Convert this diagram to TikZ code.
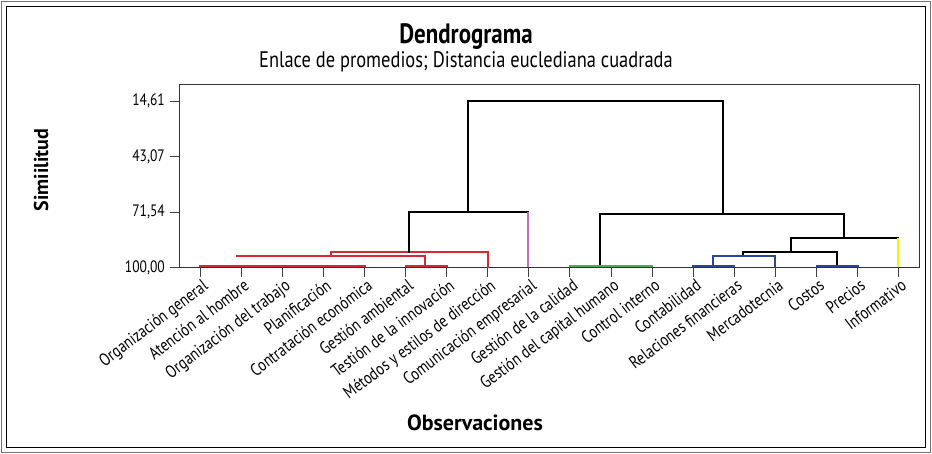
\documentclass[tikz,border=0pt]{standalone}
\usepackage{fontspec}
\setmainfont{PT Sans}
\newfontfamily\cond[FakeStretch=0.82]{PT Sans}
\definecolor{dred}{HTML}{D42A32}
\definecolor{dpink}{HTML}{C46BB5}
\definecolor{dgreen}{HTML}{4BAE4F}
\definecolor{dblue}{HTML}{28479A}
\definecolor{dyellow}{HTML}{FFF000}
\tikzset{
  link/.style={line width=2pt, line cap=rect, black},
  redlink/.style={link, dred},
  bluelink/.style={link, dblue},
  tickmark/.style={black!75, line width=0.9pt},
  leaflabel/.style={rotate=37, anchor=north east, inner sep=0pt, font=\cond\fontsize{17.5}{20}\selectfont},
  ylabel/.style={anchor=east, inner sep=0pt, font=\cond\fontsize{16.5}{19}\selectfont},
}
\begin{document}
\begin{tikzpicture}[x=1pt, y=-1pt]
\useasboundingbox (0,0) rectangle (932,454);
% frames
\draw[black!55, line width=0.8pt] (1.5,1.5) rectangle (930.5,452.5);
\draw[black, line width=0.9pt] (6.5,6.5) rectangle (925.5,447.5);
% titles
\node[font=\cond\bfseries\fontsize{28}{32}\selectfont] (title) at (466,37) {Dendrograma};
\node[font=\cond\fontsize{22.5}{26}\selectfont] (subtitle) at (466,62) {Enlace de promedios; Distancia euclediana cuadrada};
\node[font=\bfseries\fontsize{22}{26}\selectfont] (xlab) at (475,423) {Observaciones};
\node[font=\bfseries\fontsize{20}{24}\selectfont, rotate=90] (ylab) at (41,170) {Simiilitud};
% plot area
\draw[black!80, line width=0.9pt] (179,84) rectangle (919,267.5);
% y ticks
\foreach \yy/\lab in {101/{14,61}, 156.5/{43,07}, 212/{71,54}, 267.5/{100,00}}{
  \draw[tickmark] (170,\yy) -- (179,\yy);
  \node[ylabel] at (165,\yy) {\lab};
}
% leaves
\foreach \i/\lab in {1/Organización general, 2/Atención al hombre, 3/Organización del trabajo, 4/Planificación, 5/Contratación económica, 6/Gestión ambiental, 7/Testión de la innovación, 8/Métodos y estilos de dirección, 9/Comunicación empresarial, 10/Gestión de la calidad, 11/Gestión del capital humano, 12/Control interno, 13/Contabilidad, 14/Relaciones financieras, 15/Mercadotecnia, 16/Costos, 17/Precios, 18/Informativo}{
  \pgfmathsetmacro{\xx}{200+41.1*(\i-1)}
  \coordinate (L\i) at (\xx,267.5);
  \draw[tickmark] (\xx,267.5) -- (\xx,277);
  \node[leaflabel] (T\i) at (\xx+1.5,278) {\lab};
}
% red cluster
\draw[redlink, line width=2.6pt] (200,266) -- (364.4,266);
\draw[redlink] (405.5,266.3) -- (446.6,266.3);
\draw[redlink] (237.3,256) -- (425.3,256) -- (425.3,266.3);
\draw[redlink] (331,256) -- (331,252.3) -- (487.7,252.3) -- (487.7,267);
% black
\draw[link] (408.7,252.3) -- (408.7,212) -- (527.5,212);
\draw[link, dpink, line cap=butt] (528.3,212) -- (528.3,267);
\draw[link] (468.3,212) -- (468.3,101) -- (722.7,101) -- (722.7,214.3);
\draw[link] (600,266) -- (600,214.3) -- (844.3,214.3) -- (844.3,238.3);
\draw[link, dgreen, line width=2.4pt] (569.9,266.3) -- (652.1,266.3);
\draw[link] (790.7,252.3) -- (790.7,238.3) -- (897.5,238.3);
\draw[link, dyellow, line cap=butt] (898.3,238.3) -- (898.3,267);
\draw[link] (743.3,256) -- (743.3,252.3) -- (837.3,252.3) -- (837.3,266);
\draw[bluelink] (816.5,266.3) -- (857.6,266.3);
\draw[bluelink] (712.7,266.3) -- (712.7,256) -- (775.2,256) -- (775.2,267);
\draw[bluelink] (693.2,266.3) -- (734.3,266.3);
\end{tikzpicture}
\end{document}
